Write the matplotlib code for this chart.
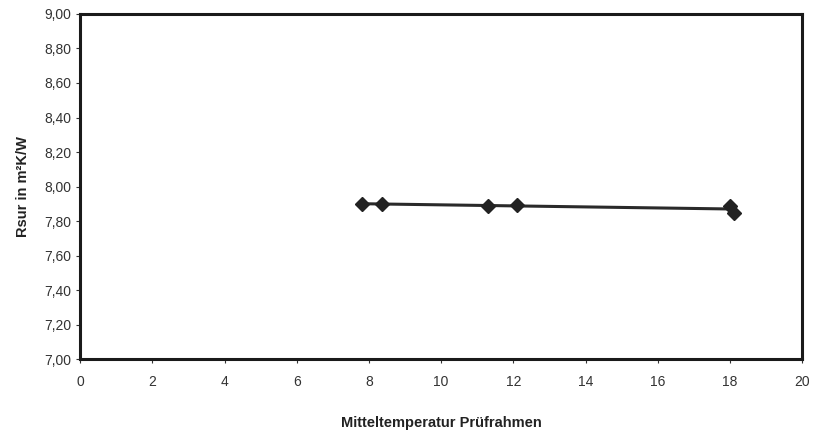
import numpy as np
import matplotlib.pyplot as plt
from matplotlib.ticker import FuncFormatter

plt.rcParams["font.family"] = ["Liberation Sans", "DejaVu Sans"]

temp = [7.8, 8.35, 11.3, 12.1, 18.0, 18.1]
rsur = [7.90, 7.90, 7.885, 7.895, 7.89, 7.85]

fig = plt.figure(figsize=(8.17, 4.34), dpi=100)
ax = fig.add_axes([0.098, 0.172, 0.884, 0.796])

k, d = np.polyfit(temp, rsur, 1)
xl = np.array([min(temp), max(temp)])
ax.plot(xl, k * xl + d, color="#2a2a2a", lw=2.2, zorder=2)
ax.plot(temp, rsur, ls="none", marker="D", ms=7.5, color="#222222", zorder=3)

ax.set_xlim(0, 20)
ax.set_ylim(7.0, 9.0)
ax.set_xticks(range(0, 21, 2))
ax.set_yticks(np.arange(7.0, 9.01, 0.2))
ax.yaxis.set_major_formatter(FuncFormatter(lambda v, p: f"{v:.2f}".replace(".", ",")))
ax.tick_params(direction="out", length=3, width=0.8, labelsize=10, colors="#333333")
ax.tick_params(axis="x", pad=8)
for s in ax.spines.values():
    s.set_linewidth(2.2)
    s.set_color("#1a1a1a")

ax.set_xlabel("Mitteltemperatur Prüfrahmen", fontsize=10.5, fontweight="bold", labelpad=20, color="#222222")
ax.set_ylabel("Rsur in m²K/W", fontsize=10.5, fontweight="bold", labelpad=10, color="#222222")

fig.savefig("out.png", dpi=100)
